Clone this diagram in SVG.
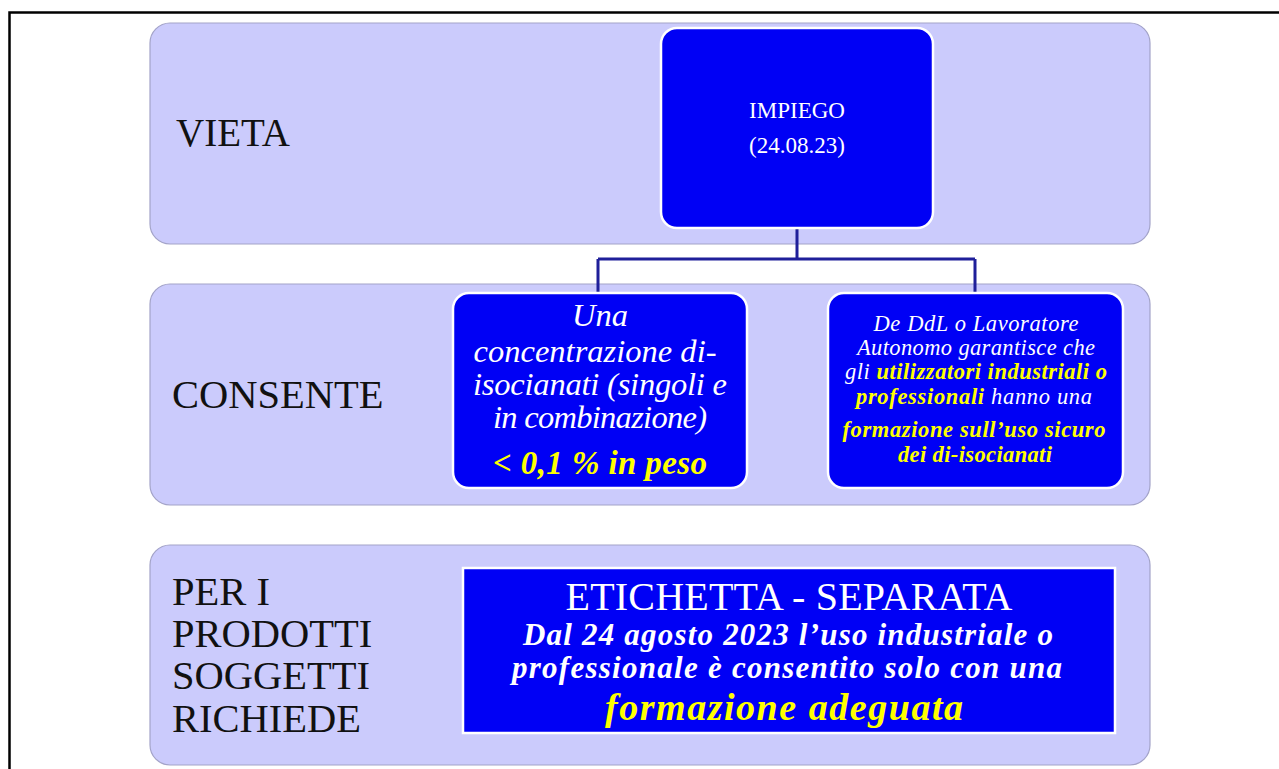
<svg xmlns="http://www.w3.org/2000/svg" width="1279" height="769" viewBox="0 0 1279 769">
<style>
.band{fill:#cbcbfc;stroke:#a3a3c8;stroke-width:1.2}
.box{fill:#0000f5;stroke:#ffffff;stroke-width:2.5}
.lbl{font-family:"Liberation Serif","Times New Roman",serif;font-size:40.5px;fill:#111111}
.w{font-family:"Liberation Serif","Times New Roman",serif;fill:#ffffff;text-anchor:middle}
.i{font-style:italic}
.b{font-weight:bold}
.y{fill:#ffff00}
.conn{fill:none;stroke:#1f1f9a;stroke-width:3}
</style>
<rect x="0" y="0" width="1279" height="769" fill="#ffffff"/>
<path d="M9.5,769 V12.5 H1279" fill="none" stroke="#000" stroke-width="2.5"/>

<g id="band-vieta">
<rect class="band" x="150" y="23" width="1000" height="221" rx="20"/>
<text class="lbl" x="176" y="146" style="font-size:39px">VIETA</text>
</g>
<g id="band-consente">
<rect class="band" x="150" y="284" width="1000" height="221" rx="20"/>
<text class="lbl" x="172" y="408">CONSENTE</text>
</g>
<g id="band-richiede">
<rect class="band" x="150" y="545" width="1000" height="220" rx="20"/>
<text class="lbl" x="172" y="605">PER I</text>
<text class="lbl" x="172" y="647">PRODOTTI</text>
<text class="lbl" x="172" y="689">SOGGETTI</text>
<text class="lbl" x="172" y="732">RICHIEDE</text>
</g>

<g id="connectors">
<path class="conn" d="M797,228 V259 M598,259 H975 M598,259 V293 M975,259 V293"/>
</g>

<g id="node-impiego">
<rect class="box" x="661" y="28" width="272" height="200" rx="16"/>
<text class="w" x="797" y="118" font-size="23">IMPIEGO</text>
<text class="w" x="797" y="153" font-size="23">(24.08.23)</text>
</g>

<g id="node-concentrazione">
<rect class="box" x="453" y="293" width="294" height="195" rx="16"/>
<text class="w i" x="600" y="326" font-size="32.5">Una</text>
<text class="w i" x="595" y="362" font-size="32.5" textLength="243">concentrazione di-</text>
<text class="w i" x="600" y="395" font-size="32.5" textLength="254">isocianati (singoli e</text>
<text class="w i" x="600" y="428" font-size="32.5" textLength="214">in combinazione)</text>
<text class="w i b y" x="600" y="474" font-size="33" textLength="214">&lt; 0,1 % in peso</text>
</g>

<g id="node-formazione">
<rect class="box" x="828" y="293" width="295" height="195" rx="16"/>
<text class="w i" x="976" y="331" font-size="22.5" textLength="205">De DdL o Lavoratore</text>
<text class="w i" x="976" y="355" font-size="22.5" textLength="238">Autonomo garantisce che</text>
<text class="w i" x="976" y="379" font-size="22.5" textLength="262">gli <tspan class="y b">utilizzatori industriali o</tspan></text>
<text class="w i" x="974" y="404" font-size="22.5" textLength="236"><tspan class="y b">professionali</tspan> hanno una</text>
<text class="w i b y" x="974" y="437" font-size="22.5" textLength="263">formazione sull’uso sicuro</text>
<text class="w i b y" x="975" y="462" font-size="22.5" textLength="154">dei di-isocianati</text>
</g>

<g id="node-etichetta">
<rect class="box" x="463" y="568" width="652" height="165"/>
<text class="w" x="789" y="610" font-size="40" textLength="447">ETICHETTA - SEPARATA</text>
<text class="w i b" x="788" y="645" font-size="31" textLength="530">Dal 24 agosto 2023 l’uso industriale o</text>
<text class="w i b" x="787" y="678" font-size="31" textLength="550">professionale è consentito solo con una</text>
<text class="w i b y" x="784" y="720" font-size="38" textLength="358">formazione adeguata</text>
</g>
</svg>
